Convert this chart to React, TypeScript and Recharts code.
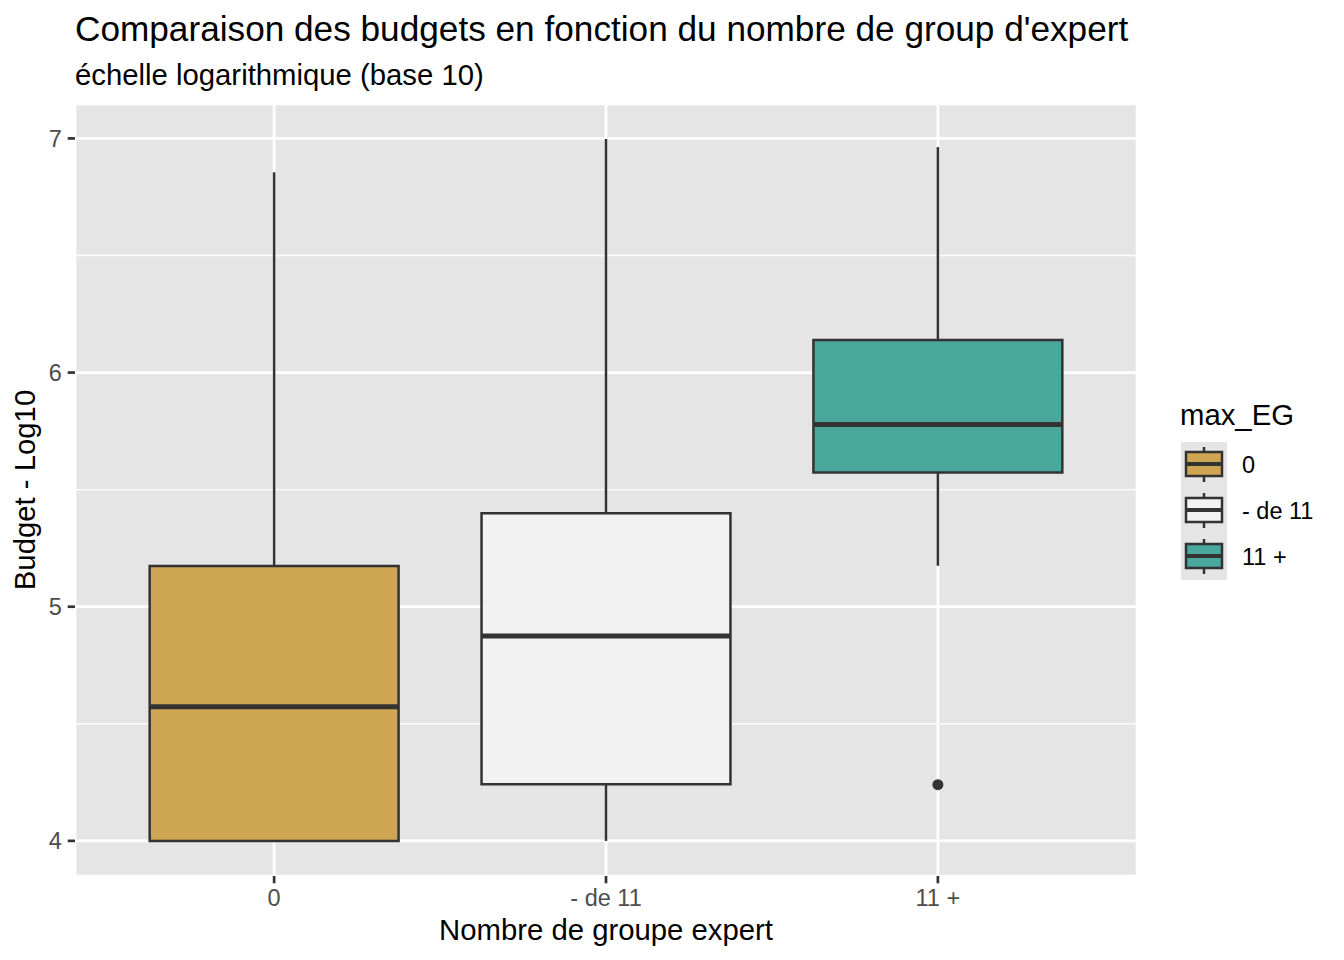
import { ComposedChart, XAxis, YAxis, CartesianGrid, ReferenceArea, ReferenceLine, Scatter } from 'recharts';

// Boxplot summary per category (log10 budget)
const categories = ['0', '- de 11', '11 +'];
const whiskerLow = [4.0, 4.0, 5.175];
const q1 = [4.0, 4.242, 5.573];
const median = [4.573, 4.875, 5.778];
const q3 = [5.174, 5.399, 6.139];
const whiskerHigh = [6.855, 6.997, 6.963];
const outliers = [{ x: 3, y: 4.24 }];

const yTicks = [4, 5, 6, 7];
const yMinor = [4.5, 5.5, 6.5];
const xTicks = [1, 2, 3];

const fills = ['#CDA553', '#F2F2F2', '#4AA79C'];
const INK = '#333333';
const HALF = 0.375;

const FONT = '"Liberation Sans", Arial, Helvetica, sans-serif';

const LegendKey = ({ y, fill }: { y: number; fill: string }) => (
  <g>
    <rect x={1181} y={y} width={46} height={46} fill="#E5E5E5" />
    <line x1={1204} x2={1204} y1={y + 5} y2={y + 10} stroke={INK} strokeWidth={2.5} />
    <line x1={1204} x2={1204} y1={y + 34} y2={y + 40} stroke={INK} strokeWidth={2.5} />
    <rect x={1186} y={y + 10} width={36} height={24} fill={fill} stroke={INK} strokeWidth={2.5} />
    <line x1={1186} x2={1222} y1={y + 22} y2={y + 22} stroke={INK} strokeWidth={4} />
  </g>
);

export default function App() {
  const positions = categories.map((_, i) => i + 1);

  return (
    <div style={{ position: 'absolute', left: 0, top: 0, width: 1344, height: 960, background: '#fff', fontFamily: FONT }}>
      <ComposedChart width={1344} height={960} margin={{ top: 104, right: 207, bottom: 0, left: 0 }}>
        <CartesianGrid fill="#E5E5E5" stroke="#FFFFFF" strokeWidth={2.7} />
        <CartesianGrid horizontalValues={yMinor} vertical={false} stroke="#FFFFFF" strokeWidth={1.35} />
        <XAxis
          type="number"
          dataKey="x"
          domain={[0.4, 3.6]}
          ticks={xTicks}
          interval={0}
          allowDataOverflow
          tickFormatter={(v: number) => categories[v - 1]}
          height={84}
          tickSize={7.3}
          tickMargin={5.9}
          axisLine={false}
          tickLine={{ stroke: INK, strokeWidth: 2.7 }}
          tick={{ fill: '#4D4D4D', fontSize: 23.5 }}
        />
        <YAxis
          type="number"
          dataKey="y"
          domain={[3.85, 7.147]}
          ticks={yTicks}
          interval={0}
          allowDataOverflow
          width={75}
          tickSize={7.3}
          tickMargin={5.9}
          axisLine={false}
          tickLine={{ stroke: INK, strokeWidth: 2.7 }}
          tick={{ fill: '#4D4D4D', fontSize: 23.5 }}
        />
        {positions.map((x, i) => (
          <ReferenceLine
            key={`wl-${i}`}
            segment={[{ x, y: whiskerLow[i] }, { x, y: q1[i] }]}
            stroke={INK}
            strokeWidth={2.5}
          />
        ))}
        {positions.map((x, i) => (
          <ReferenceLine
            key={`wh-${i}`}
            segment={[{ x, y: q3[i] }, { x, y: whiskerHigh[i] }]}
            stroke={INK}
            strokeWidth={2.5}
          />
        ))}
        {positions.map((x, i) => (
          <ReferenceArea
            key={`box-${i}`}
            x1={x - HALF}
            x2={x + HALF}
            y1={q1[i]}
            y2={q3[i]}
            fill={fills[i]}
            fillOpacity={1}
            stroke={INK}
            strokeWidth={2.5}
            strokeOpacity={1}
          />
        ))}
        {positions.map((x, i) => (
          <ReferenceLine
            key={`med-${i}`}
            segment={[{ x: x - HALF, y: median[i] }, { x: x + HALF, y: median[i] }]}
            stroke={INK}
            strokeWidth={5}
          />
        ))}
        <Scatter
          data={outliers}
          dataKey="y"
          isAnimationActive={false}
          shape={(p: any) => <circle cx={p.cx} cy={p.cy} r={5.5} fill={INK} />}
        />
      </ComposedChart>

      <svg width={1344} height={960} style={{ position: 'absolute', left: 0, top: 0, pointerEvents: 'none', fontFamily: FONT }}>
        <text x={75} y={41} fontSize={35.2} fill="#000">
          Comparaison des budgets en fonction du nombre de group d'expert
        </text>
        <text x={75} y={85} fontSize={29.3} fill="#000">
          échelle logarithmique (base 10)
        </text>
        <text x={606} y={940} fontSize={29.3} fill="#000" textAnchor="middle">
          Nombre de groupe expert
        </text>
        <text x={35} y={490} fontSize={29.3} fill="#000" textAnchor="middle" transform="rotate(-90 35 490)">
          Budget - Log10
        </text>

        <text x={1180} y={425} fontSize={29.3} fill="#000">max_EG</text>
        {categories.map((c, i) => (
          <g key={c}>
            <LegendKey y={442 + i * 46} fill={fills[i]} />
            <text x={1242} y={442 + i * 46 + 23 + 8.4} fontSize={23.5} fill="#000">
              {c}
            </text>
          </g>
        ))}
      </svg>
    </div>
  );
}
